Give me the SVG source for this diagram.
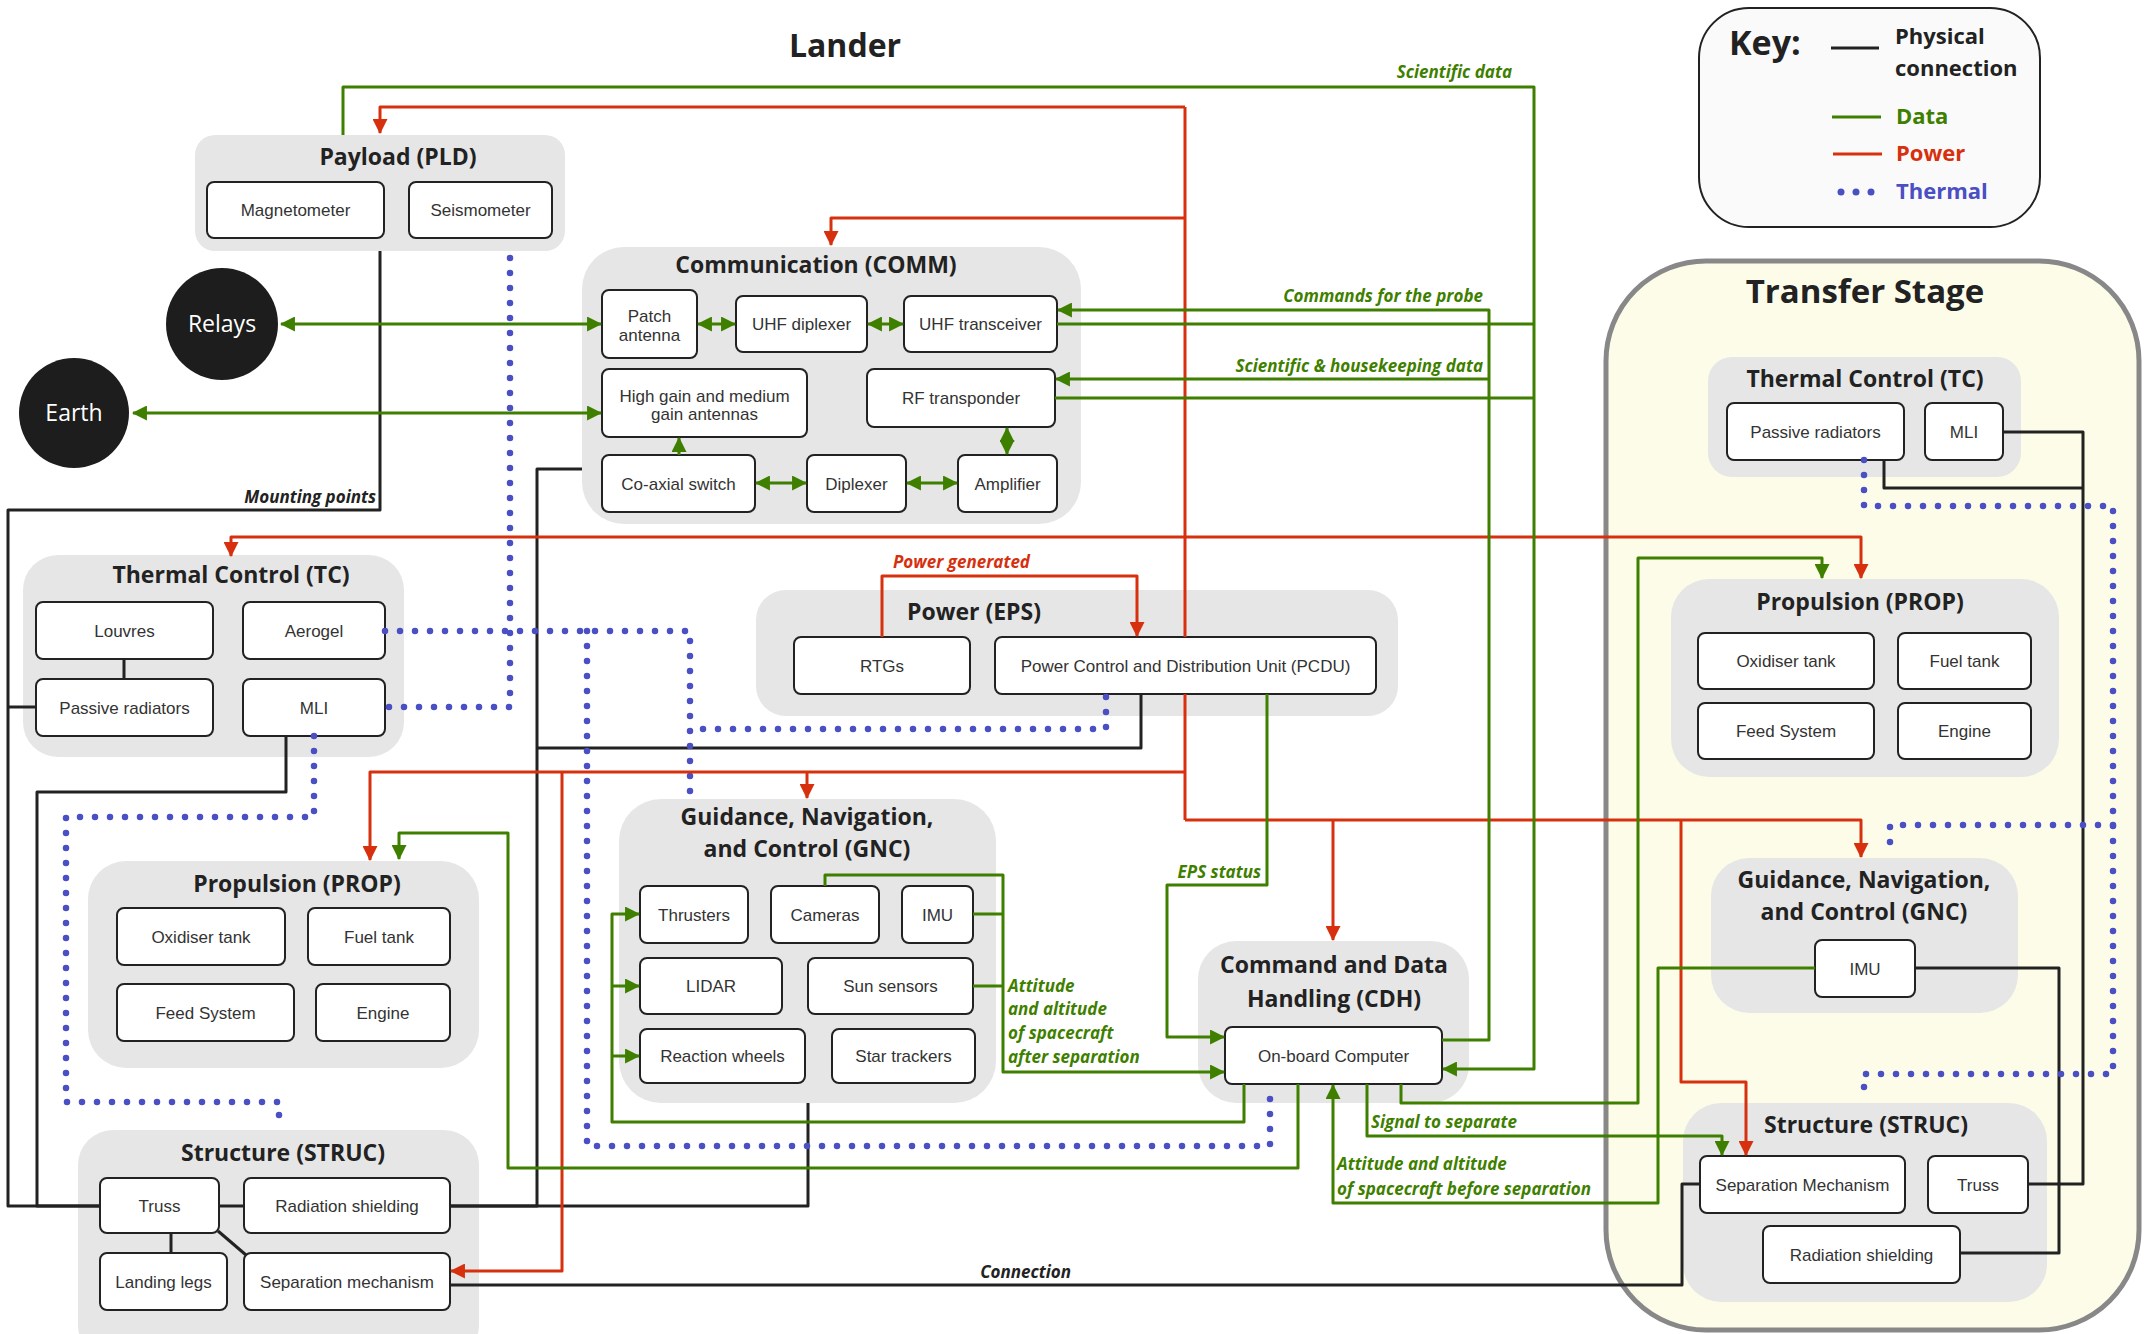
<svg xmlns="http://www.w3.org/2000/svg" width="2154" height="1334" viewBox="0 0 2154 1334">
<style>
.grp{fill:#e6e6e6}
.box{fill:#fff;stroke:#222;stroke-width:2}
.lbl{font-family:"Liberation Sans",Arial,sans-serif;font-size:17px;fill:#333;text-anchor:middle}
.ttl{font-family:"Open Sans","Noto Sans",sans-serif;font-weight:700;font-size:23px;fill:#222;text-anchor:middle}
.note{font-family:"Open Sans","Noto Sans",sans-serif;font-weight:700;font-style:italic;font-size:17px}
.ng{fill:#3f7f00}
.nr{fill:#d6300e}
.nk{fill:#222}
#connectors path{fill:none;stroke-width:3;stroke-linejoin:round}
#connectors .g{stroke:#3f7f00}
#connectors .r{stroke:#d6300e}
#connectors .k{stroke:#222}
#connectors .t{stroke:#4a4fc4;stroke-width:6.5;stroke-linecap:round;stroke-dasharray:0 15}
</style>
<defs>
<marker id="ag" markerUnits="userSpaceOnUse" markerWidth="15" markerHeight="15" viewBox="0 0 14 14" refX="13" refY="7" orient="auto-start-reverse"><path d="M0,0 L14,7 L0,14 z" fill="#3f7f00"/></marker>
<marker id="ar" markerUnits="userSpaceOnUse" markerWidth="15" markerHeight="15" viewBox="0 0 14 14" refX="13" refY="7" orient="auto-start-reverse"><path d="M0,0 L14,7 L0,14 z" fill="#d6300e"/></marker>
</defs>
<rect width="2154" height="1334" fill="#fff"/>

<text x="845" y="57" font-family="Open Sans, Noto Sans, sans-serif" font-weight="700" font-size="32" fill="#222" text-anchor="middle">Lander</text>

<!-- Key -->
<g id="key">
<rect x="1699" y="8" width="341" height="219" rx="50" fill="#fafafa" stroke="#222" stroke-width="2"/>
<text x="1729" y="55" font-family="Open Sans, sans-serif" font-weight="700" font-size="34" fill="#222">Key:</text>
<line x1="1831" y1="48" x2="1879" y2="48" stroke="#222" stroke-width="3"/>
<text x="1895" y="44" font-family="Open Sans, sans-serif" font-weight="700" font-size="22" fill="#222">Physical</text>
<text x="1895" y="76" font-family="Open Sans, sans-serif" font-weight="700" font-size="22" fill="#222">connection</text>
<line x1="1832" y1="117" x2="1881" y2="117" stroke="#3f7f00" stroke-width="3"/>
<text x="1896" y="124" font-family="Open Sans, sans-serif" font-weight="700" font-size="22" fill="#3f7f00">Data</text>
<line x1="1833" y1="154" x2="1882" y2="154" stroke="#d6300e" stroke-width="3"/>
<text x="1896" y="161" font-family="Open Sans, sans-serif" font-weight="700" font-size="22" fill="#d6300e">Power</text>
<circle cx="1841" cy="192" r="3.5" fill="#4a4fc4"/>
<circle cx="1856" cy="192" r="3.5" fill="#4a4fc4"/>
<circle cx="1871" cy="192" r="3.5" fill="#4a4fc4"/>
<text x="1896" y="199" font-family="Open Sans, sans-serif" font-weight="700" font-size="22" fill="#4a4fc4">Thermal</text>
</g>

<!-- Transfer stage container -->
<g id="transfer-stage">
<rect x="1606" y="261" width="533" height="1069" rx="100" fill="#fdfce9" stroke="#888" stroke-width="5"/>
<text x="1865" y="303" font-family="Open Sans, sans-serif" font-weight="700" font-size="33" fill="#222" text-anchor="middle">Transfer Stage</text>
</g>

<!-- External nodes -->
<g id="relays">
<circle cx="222" cy="324" r="56" fill="#1d1d1d"/>
<text x="222" y="332" font-family="Open Sans, sans-serif" font-size="23" fill="#fff" text-anchor="middle">Relays</text>
</g>
<g id="earth">
<circle cx="74" cy="413" r="55" fill="#1d1d1d"/>
<text x="74" y="421" font-family="Open Sans, sans-serif" font-size="23" fill="#fff" text-anchor="middle">Earth</text>
</g>

<!-- Lander subsystems -->
<g id="lander-pld">
<rect class="grp" x="195" y="135" width="370" height="116" rx="20"/>
<text class="ttl" x="398" y="165">Payload (PLD)</text>
<rect class="box" x="207" y="182" width="177" height="56" rx="7"/>
<text class="lbl" x="295.5" y="216">Magnetometer</text>
<rect class="box" x="409" y="182" width="143" height="56" rx="7"/>
<text class="lbl" x="480.5" y="216">Seismometer</text>
</g>

<g id="lander-comm">
<rect class="grp" x="582" y="247" width="499" height="277" rx="42"/>
<text class="ttl" x="816" y="273">Communication (COMM)</text>
<rect class="box" x="602" y="290" width="95" height="68" rx="7"/>
<text class="lbl" x="649.5" y="322">Patch</text>
<text class="lbl" x="649.5" y="341">antenna</text>
<rect class="box" x="736" y="296" width="131" height="56" rx="7"/>
<text class="lbl" x="801.5" y="330">UHF diplexer</text>
<rect class="box" x="904" y="296" width="153" height="56" rx="7"/>
<text class="lbl" x="980.5" y="330">UHF transceiver</text>
<rect class="box" x="602" y="369" width="205" height="68" rx="7"/>
<text class="lbl" x="704.5" y="402">High gain and medium</text>
<text class="lbl" x="704.5" y="420">gain antennas</text>
<rect class="box" x="867" y="369" width="188" height="58" rx="7"/>
<text class="lbl" x="961" y="404">RF transponder</text>
<rect class="box" x="602" y="455" width="153" height="57" rx="7"/>
<text class="lbl" x="678.5" y="489.5">Co-axial switch</text>
<rect class="box" x="807" y="455" width="99" height="57" rx="7"/>
<text class="lbl" x="856.5" y="489.5">Diplexer</text>
<rect class="box" x="958" y="455" width="99" height="57" rx="7"/>
<text class="lbl" x="1007.5" y="489.5">Amplifier</text>
</g>

<g id="lander-tc">
<rect class="grp" x="23" y="555" width="381" height="202" rx="35"/>
<text class="ttl" x="231" y="583">Thermal Control (TC)</text>
<rect class="box" x="36" y="602" width="177" height="57" rx="7"/>
<text class="lbl" x="124.5" y="636.5">Louvres</text>
<rect class="box" x="243" y="602" width="142" height="57" rx="7"/>
<text class="lbl" x="314" y="636.5">Aerogel</text>
<rect class="box" x="36" y="679" width="177" height="57" rx="7"/>
<text class="lbl" x="124.5" y="713.5">Passive radiators</text>
<rect class="box" x="243" y="679" width="142" height="57" rx="7"/>
<text class="lbl" x="314" y="713.5">MLI</text>
</g>

<g id="lander-eps">
<rect class="grp" x="756" y="590" width="642" height="126" rx="30"/>
<text class="ttl" x="974" y="620">Power (EPS)</text>
<rect class="box" x="794" y="637" width="176" height="57" rx="7"/>
<text class="lbl" x="882" y="671.5">RTGs</text>
<rect class="box" x="995" y="637" width="381" height="57" rx="7"/>
<text class="lbl" x="1185.5" y="671.5">Power Control and Distribution Unit (PCDU)</text>
</g>

<g id="lander-prop">
<rect class="grp" x="88" y="861" width="391" height="207" rx="38"/>
<text class="ttl" x="297" y="892">Propulsion (PROP)</text>
<rect class="box" x="117" y="908" width="168" height="57" rx="7"/>
<text class="lbl" x="201" y="942.5">Oxidiser tank</text>
<rect class="box" x="308" y="908" width="142" height="57" rx="7"/>
<text class="lbl" x="379" y="942.5">Fuel tank</text>
<rect class="box" x="117" y="984" width="177" height="57" rx="7"/>
<text class="lbl" x="205.5" y="1018.5">Feed System</text>
<rect class="box" x="316" y="984" width="134" height="57" rx="7"/>
<text class="lbl" x="383" y="1018.5">Engine</text>
</g>

<g id="lander-gnc">
<rect class="grp" x="619" y="799" width="377" height="304" rx="42"/>
<text class="ttl" x="807" y="825">Guidance, Navigation,</text>
<text class="ttl" x="807" y="857">and Control (GNC)</text>
<rect class="box" x="640" y="886" width="108" height="57" rx="7"/>
<text class="lbl" x="694" y="920.5">Thrusters</text>
<rect class="box" x="771" y="886" width="108" height="57" rx="7"/>
<text class="lbl" x="825" y="920.5">Cameras</text>
<rect class="box" x="902" y="886" width="71" height="57" rx="7"/>
<text class="lbl" x="937.5" y="920.5">IMU</text>
<rect class="box" x="640" y="958" width="142" height="56" rx="7"/>
<text class="lbl" x="711" y="992">LIDAR</text>
<rect class="box" x="808" y="958" width="165" height="56" rx="7"/>
<text class="lbl" x="890.5" y="992">Sun sensors</text>
<rect class="box" x="640" y="1029" width="165" height="54" rx="7"/>
<text class="lbl" x="722.5" y="1062">Reaction wheels</text>
<rect class="box" x="832" y="1029" width="143" height="54" rx="7"/>
<text class="lbl" x="903.5" y="1062">Star trackers</text>
</g>

<g id="lander-cdh">
<rect class="grp" x="1198" y="941" width="271" height="162" rx="38"/>
<text class="ttl" x="1334" y="973">Command and Data</text>
<text class="ttl" x="1334" y="1007">Handling (CDH)</text>
<rect class="box" x="1225" y="1027" width="217" height="57" rx="7"/>
<text class="lbl" x="1333.5" y="1061.5">On-board Computer</text>
</g>

<g id="lander-struc">
<rect class="grp" x="78" y="1130" width="401" height="230" rx="35"/>
<text class="ttl" x="283" y="1161">Structure (STRUC)</text>
<rect class="box" x="100" y="1178" width="119" height="55" rx="7"/>
<text class="lbl" x="159.5" y="1211.5">Truss</text>
<rect class="box" x="244" y="1178" width="206" height="55" rx="7"/>
<text class="lbl" x="347" y="1211.5">Radiation shielding</text>
<rect class="box" x="100" y="1253" width="127" height="57" rx="7"/>
<text class="lbl" x="163.5" y="1287.5">Landing legs</text>
<rect class="box" x="244" y="1253" width="206" height="57" rx="7"/>
<text class="lbl" x="347" y="1287.5">Separation mechanism</text>
</g>

<!-- Transfer stage subsystems -->
<g id="ts-tc">
<rect class="grp" x="1708" y="357" width="313" height="120" rx="24"/>
<text class="ttl" x="1865" y="387">Thermal Control (TC)</text>
<rect class="box" x="1727" y="403" width="177" height="57" rx="7"/>
<text class="lbl" x="1815.5" y="437.5">Passive radiators</text>
<rect class="box" x="1925" y="403" width="78" height="57" rx="7"/>
<text class="lbl" x="1964" y="437.5">MLI</text>
</g>

<g id="ts-prop">
<rect class="grp" x="1671" y="579" width="388" height="198" rx="38"/>
<text class="ttl" x="1860" y="610">Propulsion (PROP)</text>
<rect class="box" x="1698" y="633" width="176" height="56" rx="7"/>
<text class="lbl" x="1786" y="667">Oxidiser tank</text>
<rect class="box" x="1898" y="633" width="133" height="56" rx="7"/>
<text class="lbl" x="1964.5" y="667">Fuel tank</text>
<rect class="box" x="1698" y="703" width="176" height="56" rx="7"/>
<text class="lbl" x="1786" y="737">Feed System</text>
<rect class="box" x="1898" y="703" width="133" height="56" rx="7"/>
<text class="lbl" x="1964.5" y="737">Engine</text>
</g>

<g id="ts-gnc">
<rect class="grp" x="1711" y="858" width="307" height="155" rx="38"/>
<text class="ttl" x="1864" y="888">Guidance, Navigation,</text>
<text class="ttl" x="1864" y="920">and Control (GNC)</text>
<rect class="box" x="1815" y="940" width="100" height="57" rx="7"/>
<text class="lbl" x="1865" y="974.5">IMU</text>
</g>

<g id="ts-struc">
<rect class="grp" x="1683" y="1103" width="364" height="199" rx="38"/>
<text class="ttl" x="1866" y="1133">Structure (STRUC)</text>
<rect class="box" x="1700" y="1156" width="205" height="57" rx="7"/>
<text class="lbl" x="1802.5" y="1190.5">Separation Mechanism</text>
<rect class="box" x="1928" y="1156" width="100" height="57" rx="7"/>
<text class="lbl" x="1978" y="1190.5">Truss</text>
<rect class="box" x="1763" y="1226" width="197" height="57" rx="7"/>
<text class="lbl" x="1861.5" y="1260.5">Radiation shielding</text>
</g>

<!-- Connectors -->
<g id="connectors">
<!-- physical -->
<path class="k" d="M380,251 V510 H8 V1206 H100"/>
<path class="k" d="M36,707 H8"/>
<path class="k" d="M124,659 V679"/>
<path class="k" d="M286,736 V792 H37 V1206 H100"/>
<path class="k" d="M582,469 H537 V1206 H450"/>
<path class="k" d="M1141,694 V748 H537"/>
<path class="k" d="M808,1103 V1206 H450"/>
<path class="k" d="M219,1206 H244"/>
<path class="k" d="M171,1233 V1253"/>
<path class="k" d="M218,1231 L246,1255"/>
<path class="k" d="M450,1285 H1682 V1184 H1700"/>
<path class="k" d="M2003,432 H2083 V1184 H2028"/>
<path class="k" d="M1884,460 V488 H2083"/>
<path class="k" d="M1915,968 H2059 V1253 H1960"/>

<!-- thermal -->
<path class="t" d="M510,258 V707 H385"/>
<path class="t" d="M385,631 H690 V797"/>
<path class="t" d="M587,631 V1146 H1270 V1093"/>
<path class="t" d="M1106,697 V729 H690"/>
<path class="t" d="M314,736 V817 H66 V1102 H279 V1130"/>
<path class="t" d="M1864,460 V506 H2113 V1074 H1864 V1090"/>
<path class="t" d="M2113,825 H1890 V847"/>

<!-- power -->
<path class="r" d="M1185,107 V637"/>
<path class="r" d="M1185,694 V820"/>
<path class="r" d="M1185,107 H380 V133" marker-end="url(#ar)"/>
<path class="r" d="M1185,218 H831 V245" marker-end="url(#ar)"/>
<path class="r" d="M1185,537 H231 V556" marker-end="url(#ar)"/>
<path class="r" d="M1185,537 H1861 V578" marker-end="url(#ar)"/>
<path class="r" d="M1185,772 H370 V860" marker-end="url(#ar)"/>
<path class="r" d="M807,772 V798" marker-end="url(#ar)"/>
<path class="r" d="M562,772 V1271 H451" marker-end="url(#ar)"/>
<path class="r" d="M1185,820 H1861 V857" marker-end="url(#ar)"/>
<path class="r" d="M1333,820 V940" marker-end="url(#ar)"/>
<path class="r" d="M1681,820 V1082 H1746 V1155" marker-end="url(#ar)"/>
<path class="r" d="M882,637 V576 H1137 V636" marker-end="url(#ar)"/>

<!-- data -->
<path class="g" d="M281,324 H601" marker-start="url(#ag)" marker-end="url(#ag)"/>
<path class="g" d="M133,413 H601" marker-start="url(#ag)" marker-end="url(#ag)"/>
<path class="g" d="M698,324 H735" marker-start="url(#ag)" marker-end="url(#ag)"/>
<path class="g" d="M868,324 H903" marker-start="url(#ag)" marker-end="url(#ag)"/>
<path class="g" d="M756,483 H806" marker-start="url(#ag)" marker-end="url(#ag)"/>
<path class="g" d="M907,483 H957" marker-start="url(#ag)" marker-end="url(#ag)"/>
<path class="g" d="M1007,428 V454" marker-start="url(#ag)" marker-end="url(#ag)"/>
<path class="g" d="M679,455 V438" marker-end="url(#ag)"/>
<path class="g" d="M343,135 V87 H1534 V1069 H1443" marker-end="url(#ag)"/>
<path class="g" d="M1057,324 H1534"/>
<path class="g" d="M1055,398 H1534"/>
<path class="g" d="M1442,1040 H1489 V310 H1058" marker-end="url(#ag)"/>
<path class="g" d="M1489,379 H1056" marker-end="url(#ag)"/>
<path class="g" d="M1267,694 V885 H1167 V1037 H1224" marker-end="url(#ag)"/>
<path class="g" d="M825,886 V875 H1003 V1072 H1224" marker-end="url(#ag)"/>
<path class="g" d="M973,914 H1003"/>
<path class="g" d="M973,986 H1003"/>
<path class="g" d="M1244,1084 V1122 H612 V914 H639" marker-end="url(#ag)"/>
<path class="g" d="M612,986 H639" marker-end="url(#ag)"/>
<path class="g" d="M612,1056 H639" marker-end="url(#ag)"/>
<path class="g" d="M1298,1084 V1168 H508 V833 H399 V859" marker-end="url(#ag)"/>
<path class="g" d="M1401,1084 V1103 H1638 V558 H1822 V578" marker-end="url(#ag)"/>
<path class="g" d="M1367,1084 V1136 H1722 V1155" marker-end="url(#ag)"/>
<path class="g" d="M1815,968 H1658 V1203 H1333 V1085" marker-end="url(#ag)"/>
</g>

<!-- Connector labels -->
<g id="connector-labels">
<text class="note ng" x="1512" y="78" text-anchor="end">Scientific data</text>
<text class="note ng" x="1483" y="302" text-anchor="end">Commands for the probe</text>
<text class="note ng" x="1483" y="372" text-anchor="end">Scientific &amp; housekeeping data</text>
<text class="note nk" x="376" y="503" text-anchor="end">Mounting points</text>
<text class="note nr" x="893" y="568">Power generated</text>
<text class="note ng" x="1261" y="878" text-anchor="end">EPS status</text>
<text class="note ng" x="1008" y="992">Attitude</text>
<text class="note ng" x="1008" y="1015">and altitude</text>
<text class="note ng" x="1008" y="1039">of spacecraft</text>
<text class="note ng" x="1008" y="1063">after separation</text>
<text class="note ng" x="1371" y="1128">Signal to separate</text>
<text class="note ng" x="1337" y="1170">Attitude and altitude</text>
<text class="note ng" x="1337" y="1195">of spacecraft before separation</text>
<text class="note nk" x="1071" y="1278" text-anchor="end">Connection</text>
</g>
</svg>
